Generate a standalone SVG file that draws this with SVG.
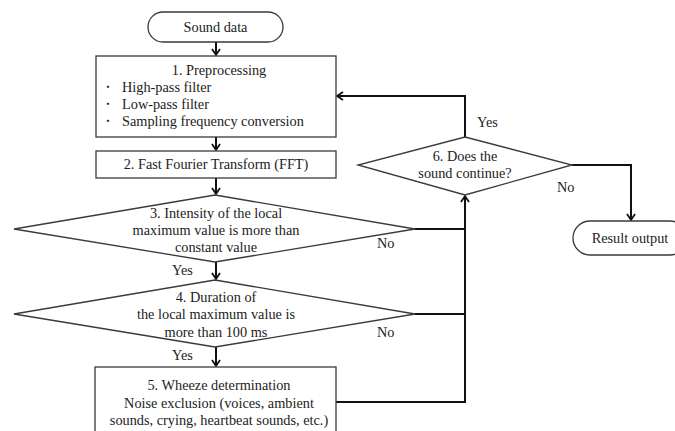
<svg xmlns="http://www.w3.org/2000/svg" width="675" height="431" viewBox="0 0 675 431">
<defs>
<style>
.shape{fill:#fff;stroke:#3a3a3a;stroke-width:1.3}
.conn{fill:none;stroke:#111;stroke-width:2}
text{font-family:"Liberation Serif","Times New Roman",serif;font-size:14.3px;fill:#222}
.c{text-anchor:middle}
.dot{font-family:"Noto Sans CJK JP","Liberation Serif",serif;font-size:11px}
</style>
<marker id="ah" markerWidth="10" markerHeight="10" refX="8" refY="5" orient="auto" markerUnits="userSpaceOnUse">
<polyline points="2,1 8,5 2,9" fill="none" stroke="#111" stroke-width="1.8"/>
</marker>
</defs>
<rect width="675" height="431" fill="#fff"/>
<g id="connectors">
<line class="conn" x1="216" y1="42" x2="216" y2="55" marker-end="url(#ah)"/>
<line class="conn" x1="216" y1="137" x2="216" y2="150" marker-end="url(#ah)"/>
<line class="conn" x1="216" y1="178" x2="216" y2="194" marker-end="url(#ah)"/>
<line class="conn" x1="216" y1="262" x2="216" y2="279" marker-end="url(#ah)"/>
<line class="conn" x1="216" y1="347" x2="216" y2="366" marker-end="url(#ah)"/>
<line class="conn" x1="415" y1="229" x2="465" y2="229"/>
<line class="conn" x1="415" y1="314" x2="465" y2="314"/>
<polyline class="conn" points="336,402 465,402 465,196" marker-end="url(#ah)"/>
<polyline class="conn" points="465,137 465,96 337,96" marker-end="url(#ah)"/>
<polyline class="conn" points="572,165 631,165 631,220" marker-end="url(#ah)"/>
</g>
<g id="sound-data">
<rect class="shape" x="148" y="12" width="135" height="30" rx="15" ry="15"/>
<text class="c" x="215.5" y="32">Sound data</text>
</g>
<g id="preprocessing">
<rect class="shape" x="96" y="56" width="240" height="81"/>
<text class="c" x="219" y="75">1. Preprocessing</text>
<text class="dot" x="102.5" y="91">・</text>
<text x="122" y="92">High-pass filter</text>
<text class="dot" x="102.5" y="108">・</text>
<text x="122" y="109">Low-pass filter</text>
<text class="dot" x="102.5" y="125">・</text>
<text x="122" y="126">Sampling frequency conversion</text>
</g>
<g id="fft">
<rect class="shape" x="96" y="151" width="240" height="27"/>
<text class="c" x="216" y="169">2. Fast Fourier Transform (FFT)</text>
</g>
<g id="intensity">
<polygon class="shape" points="215,195 415,229 215,262 14,229"/>
<text class="c" x="216" y="218">3. Intensity of the local</text>
<text class="c" x="216" y="235">maximum value is more than</text>
<text class="c" x="216" y="252">constant value</text>
<text x="172" y="275">Yes</text>
<text x="377" y="248">No</text>
</g>
<g id="duration">
<polygon class="shape" points="215,280 415,314 215,347 14,314"/>
<text class="c" x="216" y="302">4. Duration of</text>
<text class="c" x="216" y="319">the local maximum value is</text>
<text class="c" x="216" y="337">more than 100 ms</text>
<text x="172" y="360">Yes</text>
<text x="377" y="337">No</text>
</g>
<g id="wheeze">
<rect class="shape" x="95" y="367" width="241" height="70"/>
<text class="c" x="219" y="390">5. Wheeze determination</text>
<text class="c" x="219" y="408">Noise exclusion (voices, ambient</text>
<text class="c" x="219" y="425">sounds, crying, heartbeat sounds, etc.)</text>
</g>
<g id="continue">
<polygon class="shape" points="465,137 572,165 465,195 358,165"/>
<text class="c" x="465" y="161">6. Does the</text>
<text class="c" x="465" y="178">sound continue?</text>
<text x="477" y="127">Yes</text>
<text x="557" y="192">No</text>
</g>
<g id="result-output">
<rect class="shape" x="573" y="221" width="114" height="34" rx="17" ry="17"/>
<text class="c" x="630" y="243">Result output</text>
</g>
</svg>
